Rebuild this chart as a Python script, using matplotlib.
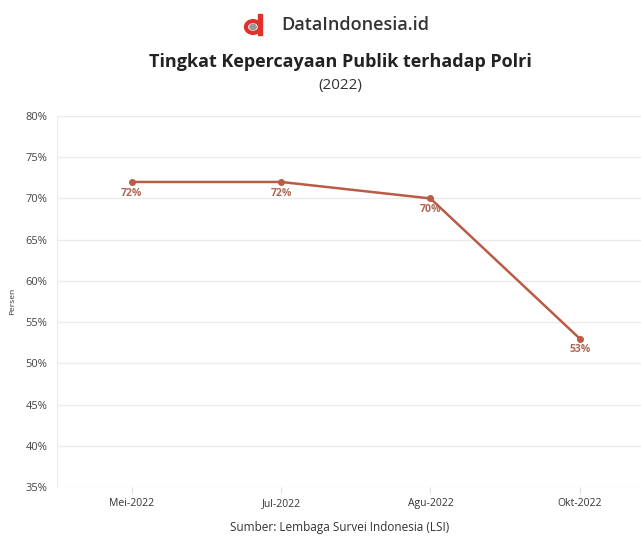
import matplotlib.pyplot as plt
from matplotlib.patches import Circle, Rectangle
import numpy as np

bulan = ["Mei-2022", "Jul-2022", "Agu-2022", "Okt-2022"]
persen = [72, 72, 70, 53]
yticks = [35, 40, 45, 50, 55, 60, 65, 70, 75, 80]

plt.rcParams['font.family'] = ['Open Sans', 'DejaVu Sans']
warna = "#b85c45"

fig = plt.figure(figsize=(6.41, 5.38), dpi=100)
ax = fig.add_axes([57/641, 1-487/538, 1-57/641, (487-116)/538])

x = np.arange(len(bulan))
ax.plot(x, persen, color=warna, lw=1.8, marker="o", ms=4, zorder=3)
for xi, v in zip(x, persen):
    ax.annotate(f"{v}%", (xi, v), xytext=(0, -4), textcoords="offset points",
                ha="center", va="top", fontsize=7.5, fontweight="bold", color="#b06656")

ax.set_xlim(-0.5, 3.41)
ax.set_ylim(35, 80)
ax.set_yticks(yticks)
ax.set_yticklabels([f"{t}%" for t in yticks])
ax.set_xticks(x)
ax.set_xticklabels(bulan)
ax.grid(axis="y", color="#ebebeb", lw=1)
ax.set_axisbelow(True)
for s in ["top", "right", "bottom"]:
    ax.spines[s].set_visible(False)
ax.spines["left"].set_color("#ebebeb")
ax.tick_params(axis="y", length=0, labelsize=8, colors="#444444", pad=7)
ax.tick_params(axis="x", length=4, color="#dddddd", labelsize=7.5, colors="#333333", pad=4)
ax.set_ylabel("Persen", fontsize=6, color="#333333", labelpad=7)

cx = 340/641
# judul
fig.text(cx, 1-62/538, "Tingkat Kepercayaan Publik terhadap Polri", ha="center", va="center",
         fontsize=13, fontweight="bold", color="#222222")
fig.text(cx, 1-86/538, "(2022)", ha="center", va="center", fontsize=11, color="#333333")

# logo
fig.text(281/641, 1-25/538, "DataIndonesia.id", ha="left", va="center", fontsize=13,
         fontweight="semibold", color="#333333")
fig.patches.append(Rectangle((258/641, 1-35/538), 3.5/641, 21/538, color="#e0312c",
                             transform=fig.transFigure))
fig.patches.append(Circle((253/641, 1-27/538), 0.011, fill=False, lw=3, ec="#e0312c",
                          transform=fig.transFigure))
fig.patches.append(Circle((253/641, 1-27/538), 0.005, color="#999999",
                          transform=fig.transFigure))

fig.text(cx, 1-527/538, "Sumber: Lembaga Survei Indonesia (LSI)", ha="center", va="center",
         fontsize=8.5, color="#333333")

fig.savefig("out.png", dpi=100)
